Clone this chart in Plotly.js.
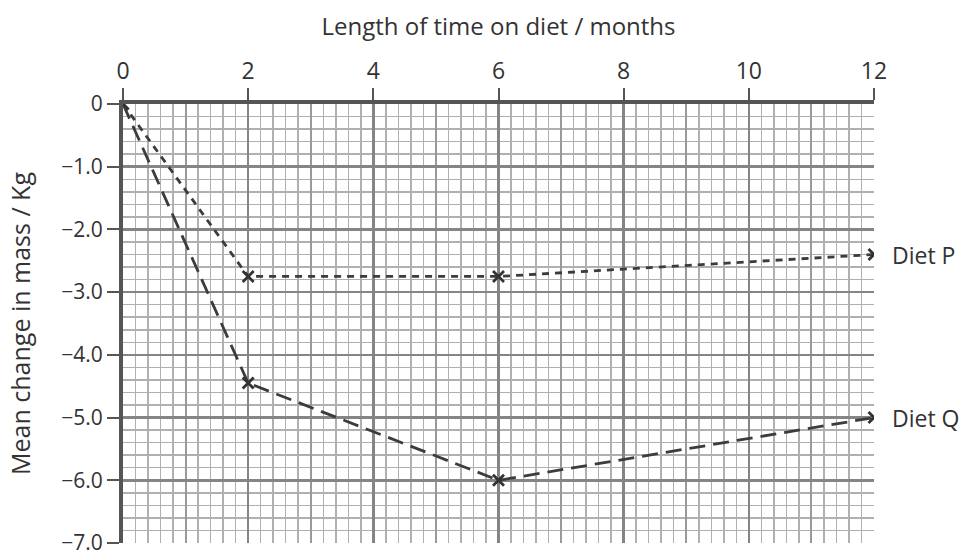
<!DOCTYPE html>
<html>
<head>
<meta charset="utf-8">
<script src="https://cdn.plot.ly/plotly-3.0.1.min.js"></script>
<style>html,body{margin:0;padding:0;background:#fff;}#chart{width:965px;height:553px;}</style>
</head>
<body>
<div id="chart"></div>
<script>
const months = [0, 2, 6, 12];
const dietP = [0, -2.75, -2.75, -2.4];
const dietQ = [0, -4.45, -6.0, -5.0];
const seriesNames = ['Diet P', 'Diet Q'];
const xTickVals = [0, 2, 4, 6, 8, 10, 12];
const xTickText = ['0', '2', '4', '6', '8', '10', '12'];
const yTickVals = [0, -1, -2, -3, -4, -5, -6, -7];
const yTickText = ['0', '\u22121.0', '\u22122.0', '\u22123.0', '\u22124.0', '\u22125.0', '\u22126.0', '\u22127.0'];

const fontFam = '"Open Sans", "Noto Sans", sans-serif';
const txt = '#333';
const lineCol = '#3c3c3c';

const traces = [
  {x: months, y: dietP, name: seriesNames[0], mode: 'lines+markers', xaxis: 'x', yaxis: 'y',
   line: {color: lineCol, width: 2.8, dash: '7px,6px'},
   marker: {symbol: 'x-thin', size: 11, line: {color: '#333', width: 2.8}, color: '#333'}},
  {x: months, y: dietQ, name: seriesNames[1], mode: 'lines+markers', xaxis: 'x', yaxis: 'y',
   line: {color: lineCol, width: 2.8, dash: '16px,8px'},
   marker: {symbol: 'x-thin', size: 11, line: {color: '#333', width: 2.8}, color: '#333'}},
  {x: [], y: [], xaxis: 'x2', yaxis: 'y', mode: 'markers', showlegend: false, hoverinfo: 'skip'}
];

const annotations = [
  {x: months[months.length-1], y: dietP[dietP.length-1], text: seriesNames[0]},
  {x: months[months.length-1], y: dietQ[dietQ.length-1], text: seriesNames[1]}
].map(a => Object.assign(a, {xref: 'x', yref: 'y', xanchor: 'left', yanchor: 'middle', xshift: 16, showarrow: false,
  font: {family: fontFam, size: 23, color: txt}}));

const layout = {
  width: 965, height: 553,
  margin: {l: 123, r: 91, t: 104, b: 10},
  paper_bgcolor: '#fff', plot_bgcolor: '#fff',
  showlegend: false,
  font: {family: fontFam, color: txt},
  xaxis: {
    range: [0, 12], autorange: false, anchor: 'y', side: 'top',
    tick0: 0, dtick: 1, showticklabels: false, ticks: '',
    showgrid: true, gridcolor: '#999', gridwidth: 2,
    minor: {tick0: 0, dtick: 0.2, showgrid: true, gridcolor: '#b0b0b0', gridwidth: 1.5},
    zeroline: false, showline: false
  },
  xaxis2: {
    range: [0, 12], autorange: false, overlaying: 'x', anchor: 'y', side: 'top',
    tickmode: 'array', tickvals: xTickVals, ticktext: xTickText,
    ticks: 'outside', ticklen: 12, tickwidth: 2, tickcolor: '#555',
    tickfont: {family: fontFam, size: 23, color: txt},
    showgrid: true, gridcolor: '#858585', gridwidth: 2.5,
    showline: true, linecolor: '#555', linewidth: 4,
    zeroline: false, ticklabeloverflow: 'allow',
    title: {text: 'Length of time on diet / months', font: {family: fontFam, size: 24, color: txt}, standoff: 12}
  },
  yaxis: {
    range: [-7, 0], autorange: false,
    tickmode: 'array', tickvals: yTickVals, ticktext: yTickText,
    ticks: 'outside', ticklen: 12, tickwidth: 2, tickcolor: '#555',
    tickfont: {family: fontFam, size: 21, color: txt},
    showgrid: true, gridcolor: '#858585', gridwidth: 2.5,
    minor: {tick0: 0, dtick: 0.2, showgrid: true, gridcolor: '#b0b0b0', gridwidth: 1.5},
    showline: true, linecolor: '#555', linewidth: 4,
    zeroline: false, ticklabeloverflow: 'allow',
    title: {text: 'Mean change in mass / Kg', font: {family: fontFam, size: 25, color: txt}, standoff: 25}
  },
  annotations: annotations
};

Plotly.newPlot('chart', traces, layout, {staticPlot: true, displayModeBar: false});
</script>
</body>
</html>
